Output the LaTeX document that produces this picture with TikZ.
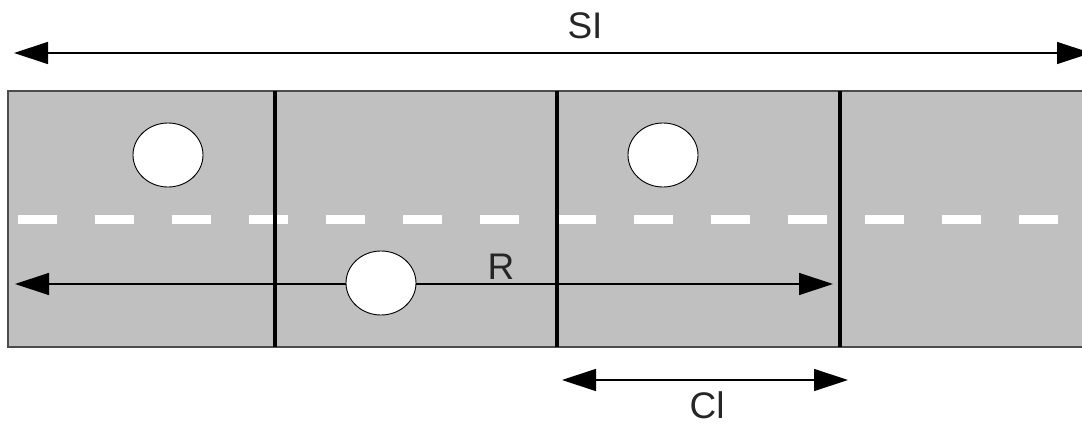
\documentclass[tikz,border=0pt]{standalone}
\usepackage{fontspec}
\setmainfont{Liberation Sans}
\usetikzlibrary{arrows.meta,shapes.geometric}

\begin{document}
\begin{tikzpicture}[x=1pt,y=-1pt,
  dim/.style={black,line width=1.3pt,{Triangle[length=34pt,width=22pt]}-{Triangle[length=34pt,width=22pt]}},
  car/.style={ellipse,draw=black,line width=0.9pt,fill=white,minimum width=70pt,minimum height=64pt,inner sep=0pt},
  divider/.style={black,line width=3.5pt},
  lbl/.style={font=\fontsize{37}{40}\selectfont,text=black!85,inner sep=0pt}]
\useasboundingbox (0,0) rectangle (1082,425);
% road
\draw [fill={rgb,255:red,192;green,192;blue,192},draw=black!70,line width=1.4pt] (8,91) rectangle (1095,347);
\draw [white,line width=9pt,dash pattern=on 39pt off 38pt] (18,219) -- (1082,219);
\foreach \x/\n in {275/a,557/b,840/c}
  \draw [divider] (\x,91) coordinate (top\n) -- (\x,347) coordinate (bot\n);
% dimension ends
\coordinate (siL) at (14,53);
\coordinate (siR) at (1091,53);
\coordinate (rL) at (15,284);
\coordinate (rR) at (833,284);
\coordinate (clL) at (562,380);
\coordinate (clR) at (848,380);
\draw [dim] (siL) -- (siR);
\draw [dim] (rL) -- (rR);
\draw [dim] (clL) -- (clR);
\node [lbl] (si) at (585,26) {SI};
\node [lbl] (r) at (501,267) {R};
\node [lbl] (cl) at (707,405) {Cl};
% cars
\node [car] (car1) at (168,155) {};
\node [car] (car2) at (663,155) {};
\node [car] (car3) at (381,283) {};
\end{tikzpicture}
\end{document}
